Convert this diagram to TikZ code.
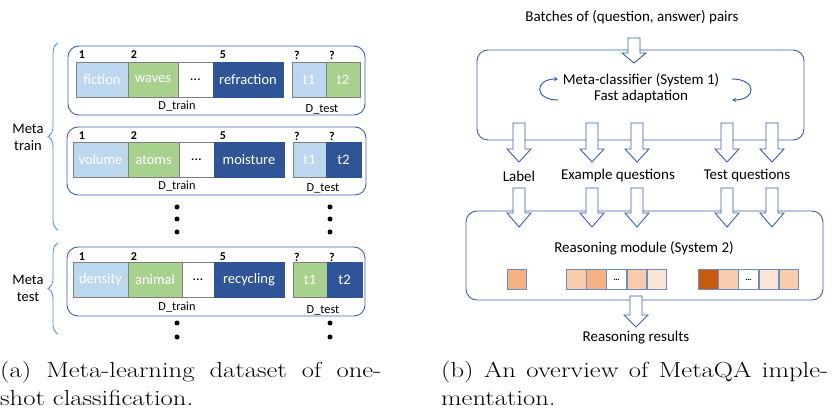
\documentclass[tikz,border=0pt]{standalone}
\usepackage{fontspec}
\newfontfamily\diagfont{Carlito}
\usetikzlibrary{positioning,decorations.pathreplacing,arrows.meta}

\definecolor{panelblue}{HTML}{3A5FA8}
\definecolor{bracecol}{HTML}{5B8FD0}
\definecolor{cellgray}{HTML}{7F7F7F}
\definecolor{lightblue}{HTML}{BDD7EE}
\definecolor{qgreen}{HTML}{A9D18E}
\definecolor{darkblue}{HTML}{2F5597}
\definecolor{sqblue}{HTML}{6E8CC4}
\definecolor{oA}{HTML}{FBE5D6}
\definecolor{oB}{HTML}{F8CBAD}
\definecolor{oC}{HTML}{F4B183}
\definecolor{oD}{HTML}{C55A11}

\tikzset{
  panel/.style={draw=panelblue, line width=0.9pt, rounded corners=11pt, inner sep=0pt},
  cell/.style={draw=cellgray, line width=0.9pt, minimum height=35pt, inner sep=0pt, outer sep=0pt,
    text=white, font=\diagfont\fontsize{14.5}{16}\selectfont},
  num/.style={font=\diagfont\bfseries\fontsize{12}{13}\selectfont, inner sep=0pt},
  setname/.style={font=\diagfont\fontsize{12.3}{13}\selectfont, inner sep=0pt},
  lbl/.style={font=\diagfont\fontsize{15}{16}\selectfont, inner sep=0pt, align=center},
  blockarrow/.style={draw=panelblue, fill=white, line width=0.9pt, line join=miter},
  sq/.style={draw=sqblue, line width=0.8pt, minimum size=19.5pt, inner sep=0pt, outer sep=0pt,
    font=\diagfont\fontsize{9}{9}\selectfont},
  brace/.style={decorate, decoration={brace, amplitude=10pt}, draw=bracecol, line width=0.9pt},
  dot/.style={circle, fill=black, inner sep=0pt, minimum size=5pt},
  cyc/.style={draw=panelblue, line width=1pt, -{Stealth[length=4pt,width=4pt]}},
  capt/.style={inner sep=0pt, anchor=north west, font=\fontsize{21.8}{28}\selectfont}
}

% hollow block arrow: centre x, shaft top, neck, tip
\newcommand{\hollowarrow}[4]{%
  \draw[blockarrow] (#1-6,#2) -- (#1-6,#3) -- (#1-12,#3) -- (#1,#4) -- (#1+12,#3) -- (#1+6,#3) -- (#1+6,#2) -- cycle;}
% caption text, widened like the reference
\newcommand{\widecap}[2]{\scalebox{1.22}[1]{\parbox[t]{#1}{#2}}}

\begin{document}
\begin{tikzpicture}[x=1pt,y=-1pt]
\useasboundingbox (0,0) rectangle (836,411);

% (a) dataset
\node[panel, minimum width=297pt, minimum height=69pt] (ep1) at (216.5,80.5) {};
\node[panel, minimum width=299pt, minimum height=68pt] (ep2) at (216.5,161) {};
\node[panel, minimum width=298pt, minimum height=69pt] (ep3) at (216,281.5) {};

% episode 1
\node[cell, fill=lightblue, minimum width=52pt, anchor=west] (fiction) at (76,79.5) {fiction};
\node[cell, fill=qgreen, minimum width=50pt, right=0pt of fiction] (waves) {waves};
\node[cell, fill=white, text=black, minimum width=35pt, right=0pt of waves] (gapA) {\ldots};
\node[cell, fill=darkblue, draw=darkblue, minimum width=70pt, right=0pt of gapA] (refraction) {refraction};
\node[cell, fill=lightblue, minimum width=34pt, anchor=west] (tA1) at (292,79.5) {t1};
\node[cell, fill=qgreen, minimum width=34pt, right=0pt of tA1] (tA2) {t2};
\node[num] at (82,55) {1};
\node[num] at (134,55) {2};
\node[num] at (223,55) {5};
\node[num] at (297,55) {?};
\node[num] at (332,55) {?};
\node[setname] (trainA) at (177,106) {D\_train};
\node[setname] (testA) at (322,109) {D\_test};

% episode 2
\node[cell, fill=lightblue, minimum width=55pt, anchor=west] (volume) at (73,159.5) {volume};
\node[cell, fill=qgreen, minimum width=51pt, right=0pt of volume] (atoms) {atoms};
\node[cell, fill=white, text=black, minimum width=35pt, right=0pt of atoms] (gapB) {\ldots};
\node[cell, fill=darkblue, draw=darkblue, minimum width=70pt, right=0pt of gapB] (moisture) {moisture};
\node[cell, fill=lightblue, minimum width=33pt, anchor=west] (tB1) at (293,159.5) {t1};
\node[cell, fill=darkblue, draw=darkblue, minimum width=35pt, right=0pt of tB1] (tB2) {t2};
\node[num] at (82,136) {1};
\node[num] at (134,136) {2};
\node[num] at (223,136) {5};
\node[num] at (297,136) {?};
\node[num] at (332,136) {?};
\node[setname] (trainB) at (177,186) {D\_train};
\node[setname] (testB) at (323,188) {D\_test};

% episode 3
\node[cell, fill=lightblue, minimum width=55pt, anchor=west] (density) at (73,280) {density};
\node[cell, fill=qgreen, minimum width=54pt, right=0pt of density] (animal) {animal};
\node[cell, fill=white, text=black, minimum width=32pt, right=0pt of animal] (gapC) {\ldots};
\node[cell, fill=darkblue, draw=darkblue, minimum width=70pt, right=0pt of gapC] (recycling) {recycling};
\node[cell, fill=qgreen, minimum width=34pt, anchor=west] (tC1) at (293,280) {t1};
\node[cell, fill=darkblue, draw=darkblue, minimum width=35pt, right=0pt of tC1] (tC2) {t2};
\node[num] at (82,257) {1};
\node[num] at (134,257) {2};
\node[num] at (223,257) {5};
\node[num] at (297,257) {?};
\node[num] at (332,257) {?};
\node[setname] (trainC) at (177,307) {D\_train};
\node[setname] (testC) at (323,310) {D\_test};

% more episodes
\foreach \y [count=\i] in {207,219,232} {
  \node[dot] (ldA\i) at (177,\y) {};
  \node[dot] (rdA\i) at (330,\y) {};
}
\foreach \y [count=\i] in {323,337} {
  \node[dot] (ldB\i) at (177,\y) {};
  \node[dot] (rdB\i) at (330,\y) {};
}

% braces
\draw[brace] (58,230) -- (58,43);
\draw[brace] (58,334) -- (58,243);
\node[lbl, font=\diagfont\fontsize{14.5}{17}\selectfont] (mtrain) at (28,137) {Meta\\train};
\node[lbl, font=\diagfont\fontsize{14.5}{17}\selectfont] (mtest) at (28,288) {Meta\\test};

% (b) MetaQA
\node[lbl] (batches) at (632,17) {Batches of (question, answer) pairs};
\node[panel, minimum width=327pt, minimum height=90pt] (sys1) at (640.5,95) {};
\node[panel, minimum width=357pt, minimum height=89pt] (sys2) at (644.5,255.5) {};

\node[lbl] (mc) at (641,88) {Meta-classifier (System 1)\\Fast adaptation};
\draw[cyc] (558,100) .. controls (534,100) and (534,79) .. (558,79);
\draw[cyc] (732,79) .. controls (757,79) and (757,100) .. (732,100);

\hollowarrow{634}{38}{53}{63}
\foreach \x in {519,592,637,727,772} {
  \hollowarrow{\x}{123}{149}{162}
  \hollowarrow{\x}{188}{213}{227}
}

\node[lbl] (label) at (519,176) {Label};
\node[lbl] (exq) at (618,176) {Example questions};
\node[lbl] (testq) at (747,176) {Test questions};

\node[lbl] (rm) at (644,248) {Reasoning module (System 2)};

% attention cells
\node[sq, fill=oC] (s0) at (517,279.5) {};
\foreach \c [count=\i] in {oB,oC,white,oB,oA} {
  \node[sq, fill=\c] (sa\i) at (556+20.2*\i,279.5) {};
}
\foreach \c [count=\i] in {oD,oB,white,oA,oB} {
  \node[sq, fill=\c] (sb\i) at (688+20.2*\i,279.5) {};
}
\node[sq, draw=none] at (sa3) {\textbf{\ldots}};
\node[sq, draw=none] at (sb3) {\textbf{\ldots}};

\hollowarrow{636}{296}{315}{327}
\node[lbl] (results) at (636,338) {Reasoning results};

% captions
\node[capt] (capa) at (0,360.5) {\widecap{312.3pt}{(a) Meta-learning dataset of one-\linebreak shot classification.}};
\node[capt] (capb) at (441,360.5) {\widecap{317.2pt}{(b) An overview of MetaQA imple-\linebreak mentation.}};
\end{tikzpicture}
\end{document}
